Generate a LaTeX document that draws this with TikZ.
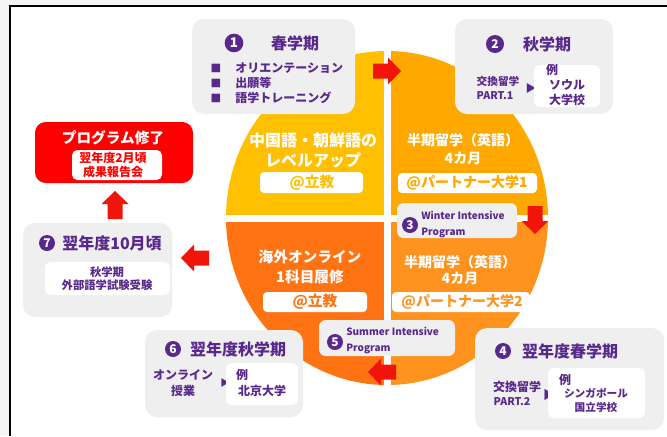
\documentclass[tikz,border=0pt]{standalone}
\usepackage{fontspec}
\setmainfont{Noto Sans CJK JP}
\usetikzlibrary{fit}
\definecolor{purp}{HTML}{58288C}
\definecolor{boxgray}{HTML}{EFEFEF}
\definecolor{bggray}{HTML}{F4F5F7}
\definecolor{qA}{HTML}{FFC000}
\definecolor{qB}{HTML}{FFA800}
\definecolor{qC}{HTML}{FF7312}
\definecolor{qD}{HTML}{FF931E}
\definecolor{arrred}{HTML}{F0140A}
\newcommand\fsz[2]{\fontsize{#1}{#2}\selectfont}
\begin{document}
\begin{tikzpicture}[x=0.75pt,y=-0.75pt,
  graybox/.style={fill=boxgray, rounded corners=9pt, draw=none, inner sep=0pt},
  whitebox/.style={fill=white, rounded corners=4pt, draw=none, inner sep=0pt},
  redbox/.style={fill=red, rounded corners=8pt, draw=none, inner sep=0pt},
  numc/.style={circle, fill=purp, text=white, inner sep=0pt, minimum size=12pt, font=\bfseries\fsz{9}{9}},
  ttl/.style={text=purp, inner sep=0pt, font=\bfseries\fsz{12}{14}},
  ptxt/.style={text=purp, inner sep=0pt, font=\bfseries\fsz{9}{11}},
  stxt/.style={text=purp, inner sep=0pt, font=\bfseries\fsz{8}{10}},
  qtxt/.style={text=white, inner sep=0pt, align=center},
  tri/.style={text=purp, inner sep=0pt, font=\fsz{8}{8}},
  blockarrow/.pic={\fill[arrred] (-14,-7.5) -- (1,-7.5) -- (1,-13.5) -- (14,0) -- (1,13.5) -- (1,7.5) -- (-14,7.5) -- cycle;}
]
\useasboundingbox (0,0) rectangle (667,436);
% background and frame
\fill[bggray] (0,0) rectangle (667,436);
\fill[white] (10,6) rectangle (667,436);
\draw[line width=1.4pt] (10,436) -- (10,6) -- (667,6);

% circle in four quadrants
\begin{scope}
  \clip (387,218) ellipse [x radius=161, y radius=167];
  \fill[qA] (210,40) rectangle (387,218);
  \fill[qB] (387,40) rectangle (560,218);
  \fill[qC] (210,218) rectangle (387,400);
  \fill[qD] (387,218) rectangle (560,400);
  \fill[white] (383.5,40) rectangle (391,400);
  \fill[white] (210,214.5) rectangle (560,222);
\end{scope}

% quadrant texts
\node[qtxt, font=\bfseries\fsz{12}{15}] (qa) at (313,150) {中国語・朝鮮語の\\レベルアップ};
\node[whitebox, rounded corners=3pt, fit={(260,172) (363,193)}] (qaw) {};
\node[text=qA, font=\bfseries\fsz{11}{11}, inner sep=0pt] (qal) at (312,183) {@立教};

\node[qtxt, font=\bfseries\fsz{10.5}{13.5}] (qb) at (463,149) {半期留学（英語）\\4カ月};
\node[whitebox, rounded corners=3pt, fit={(398,173) (537,193)}] (qbw) {};
\node[text=qB, font=\bfseries\fsz{10.5}{10.5}, inner sep=0pt] (qbl) at (467,183) {@パートナー大学1};

\node[qtxt, font=\bfseries\fsz{11}{15}] (qc) at (310,267) {海外オンライン\\1科目履修};
\node[whitebox, rounded corners=3pt, fit={(263,292) (367,312)}] (qcw) {};
\node[text=qC, font=\bfseries\fsz{11}{11}, inner sep=0pt] (qcl) at (315,302) {@立教};

\node[qtxt, font=\bfseries\fsz{10.5}{12}] (qd) at (460,270) {半期留学（英語）\\4カ月};
\node[whitebox, rounded corners=3pt, fit={(392,292) (530,312)}] (qdw) {};
\node[text=qD, font=\bfseries\fsz{10.5}{10.5}, inner sep=0pt] (qdl) at (462,302) {@パートナー大学2};

% red arrows
\pic (a1) at (387,71) {blockarrow};
\pic[rotate=-90] (a2) at (535,220) {blockarrow};
\pic[rotate=180] (a3) at (382,372) {blockarrow};
\pic[rotate=180] (a4) at (195,258) {blockarrow};
\pic[rotate=90] (a5) at (115,205) {blockarrow};

% Box 1
\node[graybox, fit={(192,19) (355,114)}] (b1) {};
\node[numc, minimum size=14pt, font=\bfseries\fsz{10}{10}] (n1) at (234,43) {1};
\node[ttl] (t1) at (295,43) {春学期};
\node[tri, font=\fsz{8}{8}] (s1a) at (216,68) {■};
\node[tri, font=\fsz{8}{8}] (s1b) at (216,83) {■};
\node[tri, font=\fsz{8}{8}] (s1c) at (216,98) {■};
\node[ptxt, anchor=west] (l1a) at (235,68) {オリエンテーション};
\node[ptxt, anchor=west] (l1b) at (235,83) {出願等};
\node[ptxt, anchor=west] (l1c) at (235,98) {語学トレーニング};

% Box 2
\node[graybox, fit={(455,19) (613,114)}] (b2) {};
\node[numc, minimum size=13.5pt] (n2) at (495,44) {2};
\node[ttl] (t2) at (547,44) {秋学期};
\node[stxt] (l2a) at (498,81) {交換留学};
\node[stxt] (l2b) at (495,96) {PART.1};
\node[tri] (tr2) at (531,88) {▶};
\node[whitebox, fit={(534,65) (600,107)}] (w2) {};
\node[ptxt] (e2a) at (552,70) {例};
\node[ptxt] (e2b) at (567,85) {ソウル};
\node[ptxt] (e2c) at (567,100) {大学校};

% Red box
\node[redbox, fit={(35,122) (193,183)}] (b8) {};
\node[text=white, font=\bfseries\fsz{11}{11}, inner sep=0pt] (t8) at (113,138) {プログラム修了};
\node[whitebox, fit={(72,150) (162,180)}] (w8) {};
\node[text=red, font=\bfseries\fsz{9}{11}, inner sep=0pt] (e8a) at (113,158) {翌年度2月頃};
\node[text=red, font=\bfseries\fsz{9}{11}, inner sep=0pt] (e8b) at (113,172) {成果報告会};

% Box 7
\node[graybox, fit={(23,223) (172,317)}] (b7) {};
\node[numc] (n7) at (47,243) {7};
\node[ttl] (t7) at (112,243) {翌年度10月頃};
\node[whitebox, fit={(45,262) (170,295)}] (w7) {};
\node[ptxt, font=\bfseries\fsz{8.5}{10}] (e7a) at (107,272) {秋学期};
\node[ptxt, font=\bfseries\fsz{8.5}{10}] (e7b) at (107,285) {外部語学試験受験};

% Box 6
\node[graybox, fit={(145,330) (303,417)}] (b6) {};
\node[numc] (n6) at (173,349) {6};
\node[ttl] (t6) at (238,349) {翌年度秋学期};
\node[ptxt] (l6a) at (183,375) {オンライン};
\node[ptxt] (l6b) at (183,391) {授業};
\node[tri, font=\fsz{7}{7}] (tr6) at (225,383) {▶};
\node[whitebox, fit={(226,363) (298,405)}] (w6) {};
\node[ptxt] (e6a) at (242,375) {例};
\node[ptxt] (e6b) at (262,391) {北京大学};

% Box 4
\node[graybox, fit={(475,328) (664,430)}] (b4) {};
\node[numc] (n4) at (503,351) {4};
\node[ttl] (t4) at (570,351) {翌年度春学期};
\node[ptxt] (l4a) at (517,387) {交換留学};
\node[stxt] (l4b) at (512,402) {PART.2};
\node[tri, font=\fsz{9}{9}] (tr4) at (549,395) {▶};
\node[whitebox, fit={(548,368) (645,418)}] (w4) {};
\node[ptxt] (e4a) at (565,380) {例};
\node[stxt] (e4b) at (596,393) {シンガポール};
\node[stxt] (e4c) at (596,407) {国立学校};

% Winter intensive
\node[graybox, rounded corners=5pt, fit={(397,203) (517,238)}] (b3) {};
\node[numc] (n3) at (410,225) {3};
\node[text=purp, font=\bfseries\fsz{7.5}{12}, align=left, anchor=west, inner sep=0pt] (t3) at (421,225) {Winter Intensive\\Program};

% Summer intensive
\node[graybox, rounded corners=5pt, fit={(319,320) (455,356)}] (b5) {};
\node[numc] (n5) at (335,342) {5};
\node[text=purp, font=\bfseries\fsz{7.5}{12}, align=left, anchor=west, inner sep=0pt] (t5) at (346,341) {Summer Intensive\\Program};
\end{tikzpicture}
\end{document}
